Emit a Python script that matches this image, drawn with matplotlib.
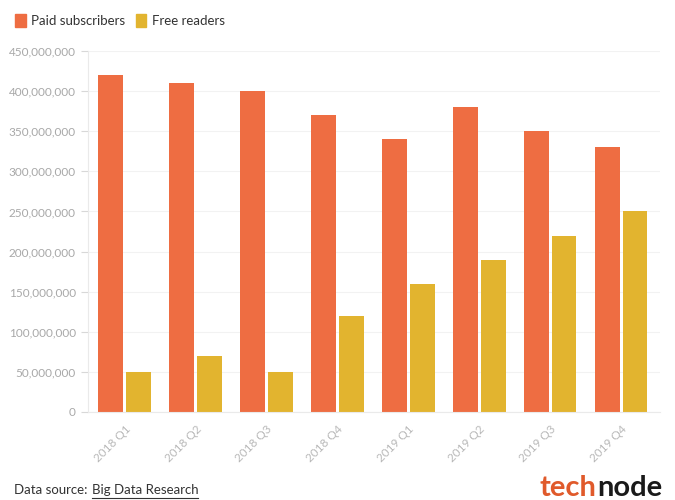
import matplotlib.pyplot as plt
import numpy as np
from matplotlib.patches import Patch
from matplotlib.ticker import FuncFormatter

plt.rcParams['font.family'] = ['Lato', 'DejaVu Sans']

quarters = ['2018 Q1', '2018 Q2', '2018 Q3', '2018 Q4',
            '2019 Q1', '2019 Q2', '2019 Q3', '2019 Q4']
paid = [420e6, 410e6, 400e6, 370e6, 340e6, 380e6, 350e6, 330e6]
free = [50e6, 70e6, 50e6, 120e6, 160e6, 190e6, 220e6, 250e6]

orange = '#EE6D42'
yellow = '#E2B42F'
grey = '#A8A8A8'

fig = plt.figure(figsize=(6.75, 5), dpi=100)
ax = fig.add_axes([0.13, 0.176, 0.848, 0.722])

x = np.arange(len(quarters))
w = 0.35
ax.bar(x - w / 2 - 0.02, paid, width=w, color=orange)
ax.bar(x + w / 2 + 0.02, free, width=w, color=yellow)

ax.set_xlim(-0.52, len(quarters) - 0.45)
ax.set_ylim(0, 450e6)
ax.set_yticks(np.arange(0, 450e6 + 1, 50e6))
ax.yaxis.set_major_formatter(FuncFormatter(lambda v, p: f'{int(v):,}'))
ax.set_xticks(x)
ax.set_xticklabels(quarters, rotation=45, ha='right', rotation_mode='anchor')
ax.tick_params(axis='y', colors='#D8D8D8', labelcolor=grey, labelsize=8.5, length=5)
ax.tick_params(axis='x', length=0, labelcolor='#B8B8B8', labelsize=8.5, pad=8)
ax.grid(axis='y', color='#F2F2F2', linewidth=0.8)
ax.set_axisbelow(True)
for s in ['top', 'right']:
    ax.spines[s].set_visible(False)
ax.spines['left'].set_color('#EAEAEA')
ax.spines['bottom'].set_color('#EAEAEA')

handles = [Patch(color=orange, label='Paid subscribers'),
           Patch(color=yellow, label='Free readers')]
fig.legend(handles=handles, loc='upper left', bbox_to_anchor=(0.005, 0.995),
           ncol=2, frameon=False, fontsize=9.5, handlelength=0.8, handleheight=1.1,
           handletextpad=0.4, columnspacing=0.8, labelcolor='#333333')

# footer: source text with underlined link, and logo
fig.canvas.draw()
r = fig.canvas.get_renderer()
inv = fig.transFigure.inverted()

t1 = fig.text(0.02, 0.012, 'Data source:', fontsize=9.5, color='#333333')
e1 = inv.transform(t1.get_window_extent(r))
x2 = e1[1][0] + 0.007
t2 = fig.text(x2, 0.012, 'Big Data Research', fontsize=9.5, color='#333333')
e2 = inv.transform(t2.get_window_extent(r))
fig.add_artist(plt.Line2D([e2[0][0], e2[1][0]], [0.005, 0.005],
                          color='#333333', linewidth=0.8))

t3 = fig.text(0.8, 0.008, 'tech', fontsize=21, fontweight='bold', color='#E05A2B')
e3 = inv.transform(t3.get_window_extent(r))
fig.text(e3[1][0], 0.008, 'node', fontsize=21, fontweight='bold', color='#1A1A1A')

fig.savefig('out.png', dpi=100)
